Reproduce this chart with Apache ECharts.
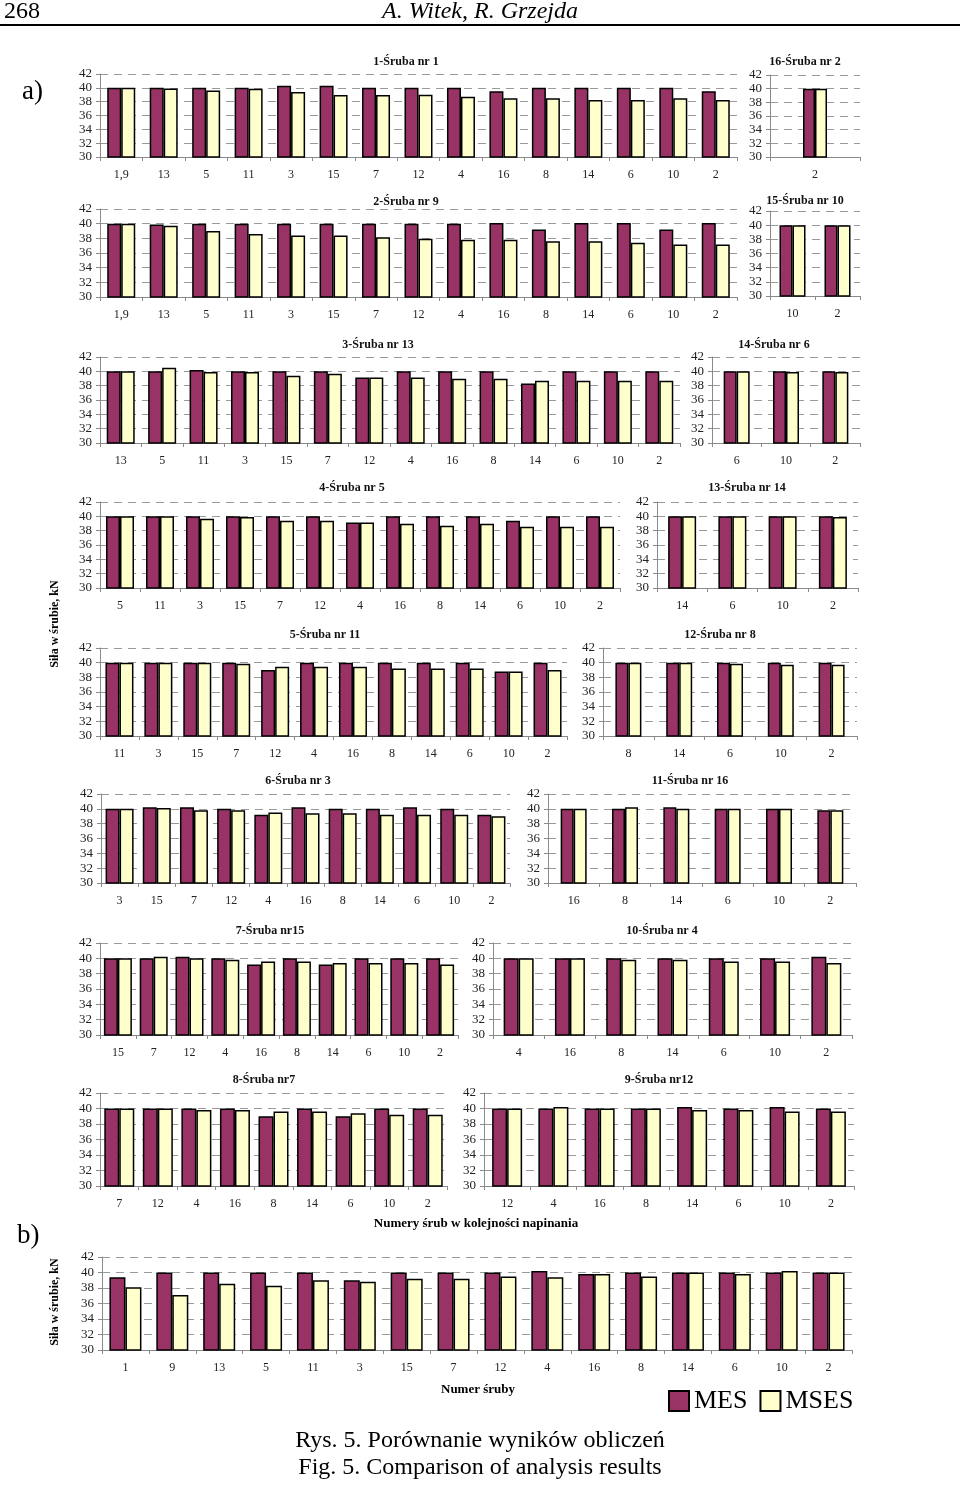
<!DOCTYPE html>
<html><head><meta charset="utf-8">
<script src="https://cdn.jsdelivr.net/npm/echarts@6/dist/echarts.min.js"></script>
<style>html,body{margin:0;padding:0;background:#fff}#c{width:960px;height:1486px}</style>
</head><body><div id="c"></div><script>
// ---------- DATA ----------
const yTicks = [30, 32, 34, 36, 38, 40, 42];
const seriesNames = ['MES', 'MSES'];

const cats1 = ['1,9','13','5','11','3','15','7','12','4','16','8','14','6','10','2'];
const mes1  = [40.0,40.0,40.0,40.0,40.3,40.3,40.0,40.0,40.0,39.5,40.0,40.0,40.0,40.0,39.5];
const mses1 = [40.0,39.9,39.6,39.85,39.4,38.95,38.95,39.0,38.7,38.5,38.5,38.25,38.25,38.5,38.25];

const cats16 = ['2'];
const mes16  = [40.0];
const mses16 = [40.0];

const cats2 = ['1,9','13','5','11','3','15','7','12','4','16','8','14','6','10','2'];
const mes2  = [40.0,39.9,40.0,40.0,40.0,40.0,40.0,40.0,40.0,40.1,39.2,40.1,40.1,39.2,40.1];
const mses2 = [40.0,39.7,39.0,38.6,38.4,38.4,38.15,37.95,37.8,37.8,37.6,37.6,37.4,37.15,37.15];

const cats15 = ['10','2'];
const mes15  = [40.0,40.0];
const mses15 = [40.0,40.0];

const cats3 = ['13','5','11','3','15','7','12','4','16','8','14','6','10','2'];
const mes3  = [40.0,40.0,40.2,40.0,40.0,40.0,39.15,40.0,40.0,40.0,38.3,40.0,40.0,40.0];
const mses3 = [40.0,40.5,39.9,39.9,39.4,39.65,39.15,39.15,38.95,38.95,38.7,38.7,38.7,38.7];

const cats14 = ['6','10','2'];
const mes14  = [40.0,40.0,40.0];
const mses14 = [40.0,39.9,39.9];

const cats4 = ['5','11','3','15','7','12','4','16','8','14','6','10','2'];
const mes4  = [40.0,40.0,40.0,40.0,40.0,40.0,39.15,40.0,40.0,40.0,39.4,40.0,40.0];
const mses4 = [40.0,40.0,39.65,39.9,39.4,39.4,39.15,38.95,38.7,38.95,38.55,38.55,38.55];

const cats13 = ['14','6','10','2'];
const mes13  = [40.0,40.0,40.0,40.0];
const mses13 = [40.0,40.0,40.0,39.9];

const cats5 = ['11','3','15','7','12','4','16','8','14','6','10','2'];
const mes5  = [40.0,40.0,40.0,40.0,39.0,40.0,40.0,40.0,40.0,40.0,38.8,40.0];
const mses5 = [40.0,40.0,40.0,39.85,39.45,39.45,39.45,39.2,39.2,39.2,38.8,39.0];

const cats12 = ['8','14','6','10','2'];
const mes12  = [40.0,40.0,40.0,40.0,40.0];
const mses12 = [40.0,40.0,39.85,39.7,39.7];

const cats6 = ['3','15','7','12','4','16','8','14','6','10','2'];
const mes6  = [40.0,40.2,40.2,40.0,39.2,40.2,40.0,40.0,40.2,40.0,39.2];
const mses6 = [40.0,40.1,39.8,39.8,39.5,39.4,39.4,39.2,39.2,39.2,39.0];

const cats11 = ['16','8','14','6','10','2'];
const mes11  = [40.0,40.0,40.2,40.0,40.0,39.8];
const mses11 = [40.0,40.2,40.0,40.0,40.0,39.8];

const cats7 = ['15','7','12','4','16','8','14','6','10','2'];
const mes7  = [40.0,40.0,40.2,40.0,39.2,40.0,39.2,40.0,40.0,40.0];
const mses7 = [40.0,40.2,40.0,39.8,39.6,39.6,39.4,39.4,39.4,39.2];

const cats10 = ['4','16','8','14','6','10','2'];
const mes10  = [40.0,40.0,40.0,40.0,40.0,40.0,40.2];
const mses10 = [40.0,40.0,39.8,39.8,39.6,39.6,39.4];

const cats8 = ['7','12','4','16','8','14','6','10','2'];
const mes8  = [40.0,40.0,40.0,40.0,39.0,40.0,39.0,40.0,40.0];
const mses8 = [40.0,40.0,39.8,39.8,39.6,39.6,39.4,39.2,39.2];

const cats9 = ['12','4','16','8','14','6','10','2'];
const mes9  = [40.0,40.0,40.0,40.0,40.2,40.0,40.2,40.0];
const mses9 = [40.0,40.2,40.0,40.0,39.8,39.8,39.6,39.6];

const catsB = ['1','9','13','5','11','3','15','7','12','4','16','8','14','6','10','2'];
const mesB  = [39.4,40.0,40.0,40.0,40.0,39.0,40.0,40.0,40.0,40.2,39.8,40.0,40.0,40.0,40.0,40.0];
const msesB = [38.1,37.1,38.55,38.3,39.0,38.8,39.2,39.2,39.5,39.4,39.8,39.5,40.0,39.8,40.2,40.0];

// ---------- LAYOUT ----------
const panels = [
  {t:'1-Śruba nr 1',  c:cats1,  a:mes1,  b:mses1,  x0:100, x1:737, y0:74,  y1:157, bw:14, tx:406, ty:62},
  {t:'16-Śruba nr 2', c:cats16, a:mes16, b:mses16, x0:770, x1:860, y0:75,  y1:157, bw:12, tx:805, ty:62},
  {t:'2-Śruba nr 9',  c:cats2,  a:mes2,  b:mses2,  x0:100, x1:737, y0:209, y1:297, bw:14, tx:406, ty:202},
  {t:'15-Śruba nr 10',c:cats15, a:mes15, b:mses15, x0:770, x1:860, y0:211, y1:296, bw:13, tx:805, ty:201},
  {t:'3-Śruba nr 13', c:cats3,  a:mes3,  b:mses3,  x0:100, x1:680, y0:357, y1:443, bw:14, tx:378, ty:345},
  {t:'14-Śruba nr 6', c:cats14, a:mes14, b:mses14, x0:712, x1:860, y0:357, y1:443, bw:13, tx:774, ty:345},
  {t:'4-Śruba nr 5',  c:cats4,  a:mes4,  b:mses4,  x0:100, x1:620, y0:502, y1:588, bw:14, tx:352, ty:488},
  {t:'13-Śruba nr 14',c:cats13, a:mes13, b:mses13, x0:657, x1:858, y0:502, y1:588, bw:14, tx:747, ty:488},
  {t:'5-Śruba nr 11', c:cats5,  a:mes5,  b:mses5,  x0:100, x1:567, y0:648, y1:736, bw:14, tx:325, ty:635},
  {t:'12-Śruba nr 8', c:cats12, a:mes12, b:mses12, x0:603, x1:857, y0:648, y1:736, bw:13, tx:720, ty:635},
  {t:'6-Śruba nr 3',  c:cats6,  a:mes6,  b:mses6,  x0:101, x1:510, y0:794, y1:883, bw:14, tx:298, ty:781},
  {t:'11-Śruba nr 16',c:cats11, a:mes11, b:mses11, x0:548, x1:856, y0:794, y1:883, bw:13, tx:690, ty:781},
  {t:'7-Śruba nr15',  c:cats7,  a:mes7,  b:mses7,  x0:100, x1:458, y0:943, y1:1035,bw:14, tx:270, ty:931},
  {t:'10-Śruba nr 4', c:cats10, a:mes10, b:mses10, x0:493, x1:852, y0:943, y1:1035,bw:15, tx:662, ty:931},
  {t:'8-Śruba nr7',   c:cats8,  a:mes8,  b:mses8,  x0:100, x1:447, y0:1093,y1:1186,bw:15, tx:264, ty:1080},
  {t:'9-Śruba nr12',  c:cats9,  a:mes9,  b:mses9,  x0:484, x1:854, y0:1093,y1:1186,bw:15, tx:659, ty:1080},
  {t:null,            c:catsB,  a:mesB,  b:msesB,  x0:102, x1:852, y0:1257,y1:1350,bw:16}
];

const SERIF = '"Liberation Serif","Times New Roman",serif';
const colMES = '#993366', colMSES = '#FFFFCC';
const grids = [], xAxes = [], yAxes = [], series = [], graphics = [];

panels.forEach((p, i) => {
  grids.push({left:p.x0, top:p.y0, width:p.x1-p.x0, height:p.y1-p.y0, containLabel:false});
  xAxes.push({
    type:'category', gridIndex:i, data:p.c,
    axisLine:{lineStyle:{color:'#8a8a8a', width:1}},
    axisTick:{show:true, length:4, lineStyle:{color:'#8a8a8a'}},
    axisLabel:{interval:0, margin:12, fontFamily:SERIF, fontSize:12, color:'#222'}
  });
  yAxes.push({
    type:'value', gridIndex:i, min:yTicks[0], max:yTicks[yTicks.length-1], interval:2,
    axisLine:{show:true, lineStyle:{color:'#8a8a8a', width:1}},
    axisTick:{show:true, length:4, lineStyle:{color:'#8a8a8a'}},
    axisLabel:{margin:8, fontFamily:SERIF, fontSize:13, color:'#222'},
    splitLine:{show:true, lineStyle:{color:'#9a9a9a', width:1, type:[8,6]}}
  });
  [[p.a, seriesNames[0], colMES],[p.b, seriesNames[1], colMSES]].forEach(([d, n, col]) => {
    series.push({
      type:'bar', name:n, xAxisIndex:i, yAxisIndex:i, data:d,
      barWidth:p.bw, barGap:'0%', silent:true, animation:false,
      itemStyle:{color:col, borderColor:'#000', borderWidth:1.5}
    });
  });
  if (p.t) graphics.push({type:'text', x:p.tx, y:p.ty,
    style:{text:p.t, font:'bold 12px '+SERIF, fill:'#111', align:'center', verticalAlign:'middle'}});
});

graphics.push(
  {type:'text', x:4, y:12, style:{text:'268', font:'24px '+SERIF, fill:'#000', align:'left', verticalAlign:'middle'}},
  {type:'text', x:480, y:12, style:{text:'A. Witek, R. Grzejda', font:'italic 24px '+SERIF, fill:'#000', align:'center', verticalAlign:'middle'}},
  {type:'line', shape:{x1:0, y1:25, x2:960, y2:25}, style:{stroke:'#000', lineWidth:2}},
  {type:'text', x:22, y:92, style:{text:'a)', font:'27px '+SERIF, fill:'#000', align:'left', verticalAlign:'middle'}},
  {type:'text', x:17, y:1236, style:{text:'b)', font:'27px '+SERIF, fill:'#000', align:'left', verticalAlign:'middle'}},
  {type:'text', x:55, y:624, rotation:Math.PI/2, style:{text:'Siła w śrubie, kN', font:'bold 12px '+SERIF, fill:'#000', align:'center', verticalAlign:'middle'}},
  {type:'text', x:55, y:1302, rotation:Math.PI/2, style:{text:'Siła w śrubie, kN', font:'bold 12px '+SERIF, fill:'#000', align:'center', verticalAlign:'middle'}},
  {type:'text', x:476, y:1224, style:{text:'Numery śrub w kolejności napinania', font:'bold 13px '+SERIF, fill:'#000', align:'center', verticalAlign:'middle'}},
  {type:'text', x:478, y:1390, style:{text:'Numer śruby', font:'bold 13px '+SERIF, fill:'#000', align:'center', verticalAlign:'middle'}},
  {type:'text', x:480, y:1441, style:{text:'Rys. 5. Porównanie wyników obliczeń', font:'24px '+SERIF, fill:'#000', align:'center', verticalAlign:'middle'}},
  {type:'text', x:480, y:1468, style:{text:'Fig. 5. Comparison of analysis results', font:'24px '+SERIF, fill:'#000', align:'center', verticalAlign:'middle'}}
);

const chart = echarts.init(document.getElementById('c'), null, {renderer:'canvas'});
chart.setOption({
  backgroundColor:'#fff',
  animation:false,
  grid:grids, xAxis:xAxes, yAxis:yAxes, series:series,
  legend:{data:seriesNames, left:663, top:1383, itemWidth:20, itemHeight:20, itemGap:12,
    icon:'rect', textStyle:{fontFamily:SERIF, fontSize:26, color:'#000'}},
  graphic:graphics
});
</script></body></html>
